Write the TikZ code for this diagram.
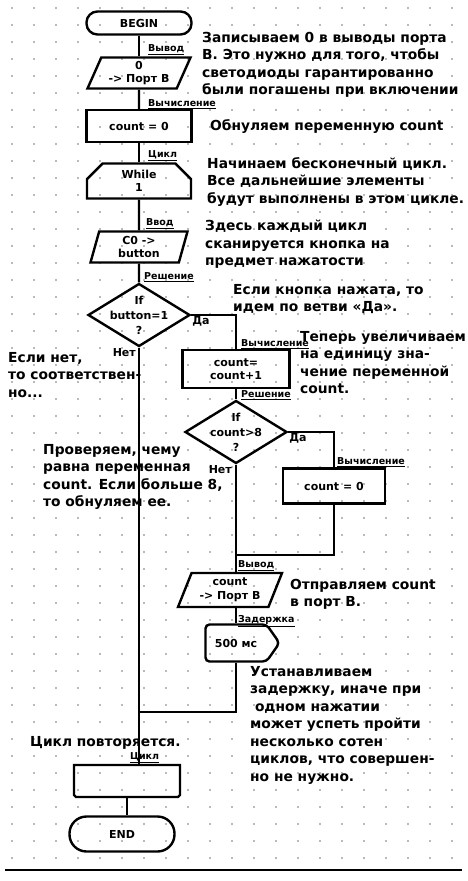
\documentclass[tikz,border=0pt]{standalone}
\usepackage{fontspec}
\setmainfont{DejaVu Sans}
\usetikzlibrary{shapes.geometric,shapes.misc,shapes.symbols}

\newcommand{\cmtfont}{\bfseries\fontsize{13.8}{17.5}\selectfont}
\newcommand{\blkfont}{\bfseries\fontsize{11}{13.5}\selectfont}
\newcommand{\tagfont}{\bfseries\fontsize{9.5}{10}\selectfont}

\tikzset{
  blk/.style={draw, line width=2.4pt, align=center, inner sep=1pt, font=\blkfont},
  terminal/.style={blk, rectangle, rounded corners=11pt, minimum width=105pt, minimum height=23pt},
  process/.style={blk, rectangle, minimum width=105pt, minimum height=32pt},
  io/.style={blk, trapezium, trapezium left angle=62, trapezium right angle=118,
    trapezium stretches body, minimum width=103pt, minimum height=31pt},
  loopbeg/.style={blk, chamfered rectangle, chamfered rectangle corners={north west,north east},
    chamfered rectangle xsep=14pt, minimum width=104pt, minimum height=35pt},
  loopfin/.style={blk, chamfered rectangle, chamfered rectangle corners={south west,south east},
    chamfered rectangle xsep=13pt, minimum width=106pt, minimum height=32pt},
  decision/.style={blk, diamond, minimum width=102pt, minimum height=63pt, inner sep=0pt},
  condtext/.style={align=center, inner sep=0pt, font=\bfseries\fontsize{11}{15}\selectfont},
  delay/.style={blk, signal, signal to=east, signal pointer angle=110, rounded corners=4pt,
    minimum width=74pt, minimum height=37pt},
  tag/.style={font=\tagfont, inner sep=1pt, anchor=west},
  answer/.style={font=\bfseries\fontsize{11}{12}\selectfont, inner sep=1pt},
  cmt/.style={font=\cmtfont, align=left, inner sep=0pt, anchor=north west},
  conn/.style={line width=2.4pt}
}

\begin{document}
\begin{tikzpicture}[x=1pt, y=-1pt]
  \useasboundingbox (0,0) rectangle (468,881);
  % Grid
  \foreach \gx in {12,34,...,456}
    \foreach \gy in {8,25,...,860}
      \fill[black!55] (\gx,\gy) circle (0.8pt);
  % Blocks
  \node (begin) [terminal] at (139,23) {BEGIN};
  \node (outzero) [io] at (139,73) {0\\-> Порт B};
  \node (init) [process] at (139,126) {count = 0};
  \node (while) [loopbeg] at (139,181) {While\\1};
  \node (scan) [io, trapezium left angle=70, trapezium right angle=110, minimum width=97pt] at (139,247) {C0 ->\\button};
  \node (ifbtn) [decision] at (139,315) {};
  \node (ifbtntext) [condtext] at (ifbtn) {If\\button=1\\?};
  \node (inc) [process, minimum width=107pt, minimum height=38pt] at (236,369) {count=\\count+1};
  \node (ifcnt) [decision] at (236,432) {};
  \node (ifcnttext) [condtext] at (ifcnt) {If\\count>8\\?};
  \node (reset) [process, minimum width=102pt, minimum height=35pt] at (334,486) {count = 0};
  \node (outcnt) [io, minimum height=34pt, minimum width=104pt] at (230,590) {count\\-> Порт B};
  \node (wait) [delay] at (236,643) {500 мс};
  \node (loopend) [loopfin] at (127,781) {};
  \node (end) [terminal, minimum height=35pt, rounded corners=17pt] at (122,834) {END};
  % Joins
  \coordinate (joinA) at (ifcnt.south |- 0,555);
  \coordinate (joinB) at (ifbtn.south |- 0,712);
  % Connectors
  \draw[conn] (begin) -- (outzero);
  \draw[conn] (outzero) -- (init);
  \draw[conn] (init) -- (while);
  \draw[conn] (while) -- (scan);
  \draw[conn] (scan) -- (ifbtn);
  \draw[conn] (ifbtn.east) -| (inc.north);
  \draw[conn] (inc) -- (ifcnt);
  \draw[conn] (ifcnt.east) -| (reset.north);
  \draw[conn] (ifcnt.south) -- (ifcnt.south |- outcnt.north);
  \draw[conn] (reset.south) |- (joinA);
  \draw[conn] (wait.north |- outcnt.south) -- (wait.north);
  \draw[conn] (wait.south) |- (joinB);
  \draw[conn] (ifbtn.south) -- (ifbtn.south |- loopend.north);
  \draw[conn] (loopend.south) -- (loopend.south |- end.north);
  % Block labels
  \node (tagout) [tag] at (147,50) {\underline{Вывод}};
  \node (tagcalc) [tag] at (147,104) {\underline{Вычисление}};
  \node (tagloop) [tag] at (147,156) {\underline{Цикл}};
  \node (tagin) [tag] at (145,224) {\underline{Ввод}};
  \node (tagdec) [tag] at (143,277) {\underline{Решение}};
  \node (yesA) [answer, anchor=north west] at (ifbtn.east) {Да};
  \node (noA) [answer, anchor=south east] at ([xshift=-2pt,yshift=-10pt]ifbtn.south) {Нет};
  \node (tagcalcB) [tag] at (240,344) {\underline{Вычисление}};
  \node (tagdecB) [tag] at (240,395) {\underline{Решение}};
  \node (yesB) [answer, anchor=north west] at (ifcnt.east) {Да};
  \node (noB) [answer, anchor=east] at (233,470) {Нет};
  \node (tagcalcC) [tag] at (336,462) {\underline{Вычисление}};
  \node (tagoutB) [tag] at (237,566) {\underline{Вывод}};
  \node (tagwait) [tag] at (237,621) {\underline{Задержка}};
  \node (tagloopB) [tag] at (129,758) {\underline{Цикл}};
  % Comments
  \node (cmtport) [cmt] at (202,32) {Записываем 0 в выводы порта\\B. Это нужно для того, чтобы\\светодиоды гарантированно\\были погашены при включении};
  \node (cmtinit) [cmt] at (210,119) {Обнуляем переменную count};
  \node (cmtloop) [cmt] at (207,157) {Начинаем бесконечный цикл.\\Все дальнейшие элементы\\будут выполнены в этом цикле.};
  \node (cmtscan) [cmt] at (205,220) {Здесь каждый цикл\\сканируется кнопка на\\предмет нажатости};
  \node (cmtyes) [cmt] at (233,284) {Если кнопка нажата, то\\идем по ветви «Да».};
  \node (cmtinc) [cmt] at (300,331) {Теперь увеличиваем\\на единицу зна-\\чение переменной\\count.};
  \node (cmtno) [cmt] at (8,352) {Если нет,\\то соответствен-\\но...};
  \node (cmtcheck) [cmt] at (43,444) {Проверяем, чему\\равна переменная\\count. Если больше 8,\\то обнуляем ее.};
  \node (cmtsend) [cmt] at (290,579) {Отправляем count\\в порт B.};
  \node (cmtwait) [cmt] at (250,666) {Устанавливаем\\задержку, иначе при\\\ одном нажатии\\может успеть пройти\\несколько сотен\\циклов, что совершен-\\но не нужно.};
  \node (cmtrepeat) [cmt] at (30,736) {Цикл повторяется.};
  % Bottom edge
  \draw[line width=2.5pt] (5,870) -- (462,870);
\end{tikzpicture}
\end{document}
